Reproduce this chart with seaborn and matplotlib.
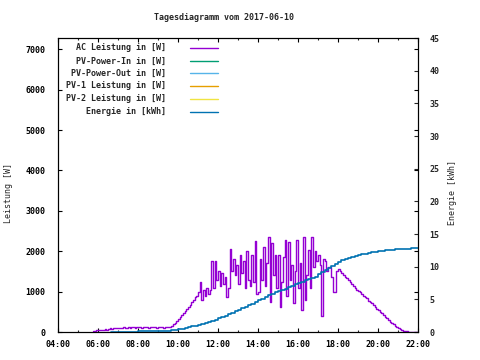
import pandas as pd
import numpy as np
import matplotlib
matplotlib.use("Agg")
import matplotlib.pyplot as plt
import matplotlib.dates as mdates
import seaborn as sns

# AC Leistung in W, alle 5 Minuten ab 05:45
power_start = "2017-06-10 05:45"
power = [
    30, 30, 40,
    40, 50, 60, 50, 70, 60, 80, 90, 80, 100, 90, 100,                          # 06
    100, 110, 90, 120, 110, 100, 120, 110, 130, 120, 110, 120,                 # 07
    120, 130, 110, 120, 130, 120, 110, 130, 120, 120, 130, 110,                # 08
    120, 130, 120, 110, 130, 120, 130, 120, 150, 190, 230, 270,                # 09
    310, 360, 420, 470, 520, 570, 630, 680, 740, 800, 860, 900,                # 10
    1000, 1250, 800, 1050, 900, 1100, 950, 1050, 1750, 1100, 1750, 1300,       # 11
    1500, 1150, 1450, 1200, 1350, 870, 1100, 2050, 1500, 1800, 1400, 1650,     # 12
    1200, 1900, 1450, 1750, 1100, 2000, 1300, 1150, 1900, 1250, 2250, 950,     # 13
    1000, 1800, 1300, 2100, 1150, 1700, 2350, 750, 2200, 1400, 1900, 1100,     # 14
    1900, 620, 1250, 1850, 2280, 900, 2230, 1300, 1650, 720, 1500, 2280,       # 15
    1100, 1700, 550, 2350, 800, 1400, 2030, 1100, 2350, 1600, 2000, 1750,      # 16
    1900, 1650, 400, 1800, 1750, 1500, 1600, 1600, 1350, 1000, 1000, 1500,     # 17
    1550, 1500, 1460, 1420, 1360, 1330, 1280, 1250, 1200, 1150, 1100, 1050,    # 18
    1010, 980, 940, 900, 860, 830, 780, 750, 710, 670, 620, 580,               # 19
    540, 500, 460, 420, 380, 340, 300, 260, 220, 190, 150, 120,                # 20
    90, 65, 45, 30, 20, 15, 10, 10, 10, 10, 10, 10,                            # 21
    10,
]

# Energie in kWh, alle 10 Minuten ab 06:40
energy_start = "2017-06-10 06:40"
energy = [
    0.00, 0.00,
    0.02, 0.03, 0.04, 0.05, 0.06, 0.07,
    0.08, 0.10, 0.11, 0.13, 0.14, 0.16,
    0.17, 0.19, 0.20, 0.22, 0.26, 0.32,
    0.40, 0.48, 0.60, 0.72, 0.85, 0.97,
    1.05, 1.18, 1.33, 1.50, 1.68, 1.88,
    2.08, 2.30, 2.50, 2.70, 2.92, 3.15,
    3.40, 3.60, 3.85, 4.10, 4.35, 4.60,
    4.85, 5.10, 5.35, 5.60, 5.85, 6.05,
    6.25, 6.45, 6.65, 6.85, 7.10, 7.30,
    7.50, 7.70, 7.90, 8.05, 8.20, 8.45,
    8.85, 9.20, 9.50, 9.85, 10.15, 10.45,
    10.70, 10.95, 11.15, 11.35, 11.50, 11.65,
    11.80, 11.90, 12.00, 12.10, 12.20, 12.30,
    12.40, 12.47, 12.53, 12.58, 12.62, 12.66,
    12.70, 12.73, 12.76, 12.78, 12.80, 12.80,
    12.80,
]

legend_labels = ["AC Leistung in [W]", "PV-Power-In in [W]", "PV-Power-Out in [W]",
                 "PV-1 Leistung in [W]", "PV-2 Leistung in [W]", "Energie in [kWh]"]
legend_colors = ["#9400d3", "#009e73", "#56b4e9", "#e69f00", "#f0e442", "#0072b2"]

left_ticks = [0, 1000, 2000, 3000, 4000, 5000, 6000, 7000]
right_ticks = [0, 5, 10, 15, 20, 25, 30, 35, 40, 45]

df_p = pd.DataFrame({"zeit": pd.date_range(power_start, periods=len(power), freq="5min"),
                     "leistung": power})
df_e = pd.DataFrame({"zeit": pd.date_range(energy_start, periods=len(energy), freq="10min"),
                     "energie": energy})

sns.set_style("ticks")
plt.rcParams["font.family"] = ["DejaVu Sans Mono"]
plt.rcParams["font.weight"] = "bold"
fs = 6.0
plt.rcParams["font.size"] = fs

fig = plt.figure(figsize=(4.8, 3.6), dpi=100)
ax = fig.add_axes([58 / 480, 28 / 360, 360 / 480, 294 / 360])
ax2 = ax.twinx()

sns.lineplot(data=df_p, x="zeit", y="leistung", ax=ax, color=legend_colors[0],
             lw=1.0, drawstyle="steps-post")
sns.lineplot(data=df_e, x="zeit", y="energie", ax=ax2, color=legend_colors[5],
             lw=1.2, drawstyle="steps-post")

ax.set_xlim(pd.Timestamp("2017-06-10 04:00"), pd.Timestamp("2017-06-10 22:00"))
ax.set_ylim(0, 7280)
ax2.set_ylim(0, 45)
ax.set_yticks(left_ticks)
ax2.set_yticks(right_ticks)
ax.xaxis.set_major_locator(mdates.HourLocator(byhour=range(0, 24, 2)))
ax.xaxis.set_minor_locator(mdates.HourLocator())
ax.xaxis.set_major_formatter(mdates.DateFormatter("%H:%M"))

ax.tick_params(axis="both", which="major", direction="in", length=3, width=0.8,
               labelsize=fs, top=True, right=True, colors="black")
ax.tick_params(axis="x", which="minor", direction="in", length=1.6, width=0.8, top=True)
ax.tick_params(axis="y", which="major", pad=9)
ax.tick_params(axis="x", which="major", pad=6)
ax2.tick_params(axis="y", direction="in", length=3, width=0.8, labelsize=fs, pad=8)

for a in (ax, ax2):
    for s in a.spines.values():
        s.set_linewidth(0.8)
        s.set_color("black")

ax.set_xlabel("")
ax.set_ylabel("Leistung [W]", fontsize=fs)
ax2.set_ylabel("Energie [kWh]", fontsize=fs)
ax.yaxis.set_label_coords(-0.125, 0.473)
ax2.yaxis.set_label_coords(1.083, 0.473)
fig.text(224 / 480, 1 - 18 / 360, "Tagesdiagramm vom 2017-06-10", ha="center", va="center", fontsize=fs)

# Legende wie bei gnuplot: Text rechtsbündig, Linie rechts daneben
row_y = [0.966, 0.922, 0.880, 0.837, 0.793, 0.749]
for lab, col, yy in zip(legend_labels, legend_colors, row_y):
    ax2.text(0.30, yy, lab, transform=ax2.transAxes, ha="right", va="center", fontsize=fs)
    ax2.plot([0.367, 0.444], [yy, yy], transform=ax2.transAxes, color=col, lw=1.0)

plt.savefig("out.png", dpi=100)
